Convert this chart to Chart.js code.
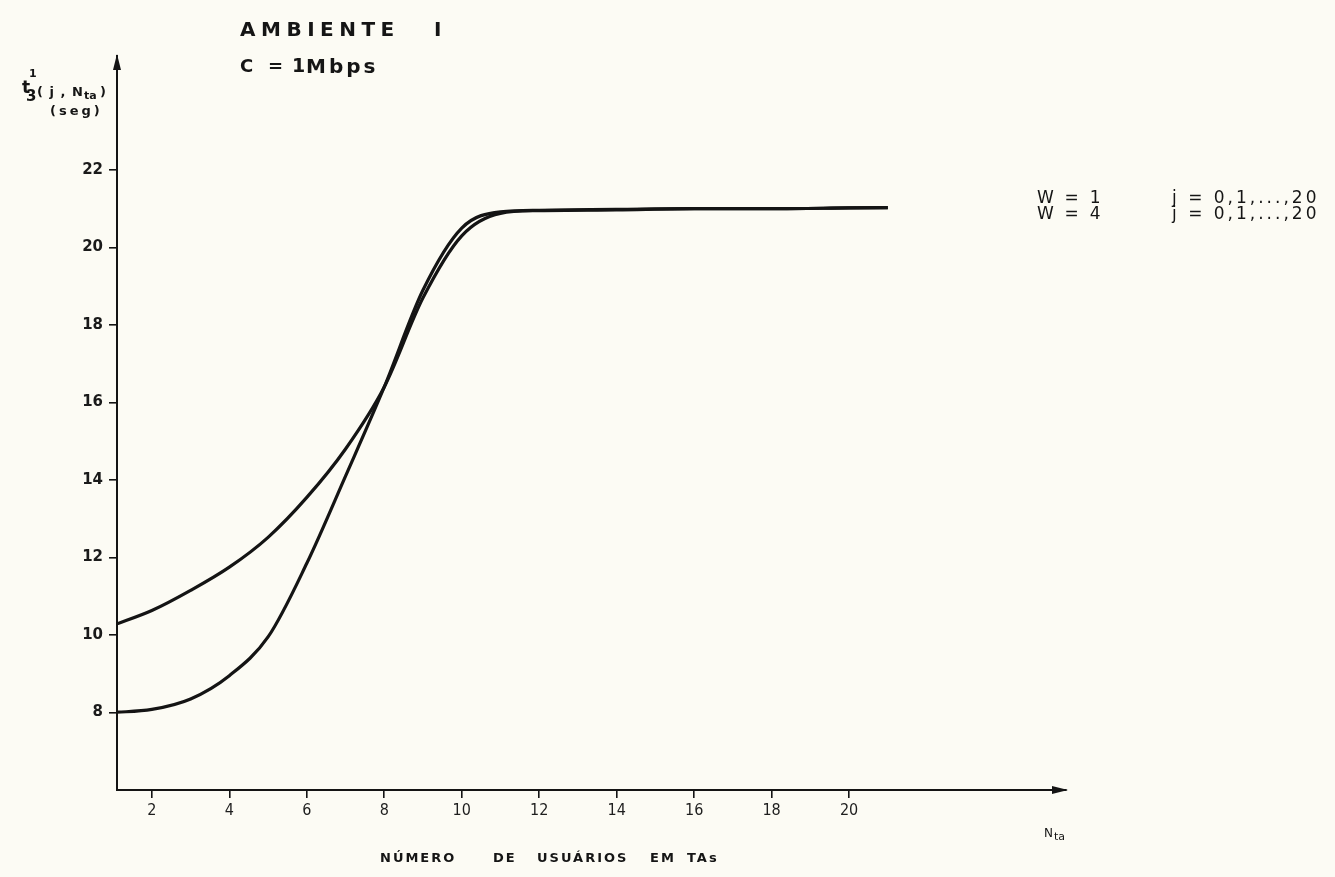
<!DOCTYPE html>
<html>
<head>
<meta charset="utf-8">
<script src="https://cdn.jsdelivr.net/npm/chart.js@4.4.1/dist/chart.umd.min.js"></script>
<style>
    html, body { margin: 0; padding: 0; background: #fcfbf4; }
    #wrap { position: relative; width: 1335px; height: 877px; overflow: hidden; }
    #chart { position: absolute; left: 0; top: 0; }
    .lbl { position: absolute; white-space: pre; color: #151515; font-family: "DejaVu Sans", sans-serif; line-height: 1; }
</style>
</head>
<body>
<div id="wrap"><canvas id="chart" width="1335" height="877"></canvas></div>
<script>
"use strict";

// N_ta values (x) and t3(j, N_ta) in seconds for each window size
const nta = [1, 2, 3, 4, 5, 6, 7, 8, 9, 10, 11, 12, 14, 16, 18, 20, 21];
const tW1 = [10.25, 10.63, 11.15, 11.75, 12.52, 13.55, 14.8, 16.4, 18.7, 20.3, 20.88, 20.95, 20.97, 21.0, 21.0, 21.02, 21.03];
const tW4 = [8.0, 8.08, 8.35, 8.95, 9.95, 11.85, 14.1, 16.4, 18.9, 20.5, 20.92, 20.96, 20.98, 21.0, 21.0, 21.02, 21.03];

const xTicks = [2, 4, 6, 8, 10, 12, 14, 16, 18, 20];
const yTicks = [8, 10, 12, 14, 16, 18, 20, 22];

const ink = "#141414";

function createLabel(text, left, top, style = {}) {
    const el = document.createElement("div");
    el.className = "lbl";
    el.style.left = left + "px";
    el.style.top = top + "px";
    Object.assign(el.style, style);
    el.appendChild(document.createTextNode(text));
    document.getElementById("wrap").appendChild(el);
    return el;
}

// arrowheads at the ends of both axes
const axisArrows = {
    id: "axisArrows",
    afterDraw(chart) {
        const { ctx, chartArea: a } = chart;
        ctx.save();
        ctx.fillStyle = ink;
        ctx.beginPath();
        ctx.moveTo(a.left, a.top - 2);
        ctx.lineTo(a.left - 4, a.top + 14);
        ctx.lineTo(a.left + 4, a.top + 14);
        ctx.closePath();
        ctx.fill();
        ctx.beginPath();
        ctx.moveTo(a.right + 2, a.bottom);
        ctx.lineTo(a.right - 14, a.bottom - 4);
        ctx.lineTo(a.right - 14, a.bottom + 4);
        ctx.closePath();
        ctx.fill();
        ctx.restore();
    }
};

function series(values, label) {
    return {
        label,
        data: nta.map((n, i) => ({ x: n, y: values[i] })),
        borderColor: ink,
        borderWidth: 3.2,
        pointRadius: 0,
        fill: false,
        cubicInterpolationMode: "monotone"
    };
}

const ctx = document.getElementById("chart").getContext("2d");
new Chart(ctx, {
    type: "line",
    data: { datasets: [series(tW1, "W = 1"), series(tW4, "W = 4")] },
    plugins: [axisArrows],
    options: {
        responsive: false,
        animation: false,
        devicePixelRatio: 1,
        layout: { padding: { top: 56, right: 269, left: 0, bottom: 0 } },
        plugins: { legend: { display: false }, tooltip: { enabled: false } },
        scales: {
            x: {
                type: "linear",
                min: 1.1,
                max: 25.6,
                afterBuildTicks: (s) => { s.ticks = xTicks.map((v) => ({ value: v })); },
                afterFit: (s) => { s.height = 87; },
                grid: { drawOnChartArea: false, tickLength: 8, color: ink, lineWidth: 1.6 },
                border: { color: ink, width: 2 },
                ticks: {
                    padding: 3,
                    color: "#1e1e1e",
                    maxRotation: 0,
                    font: { family: "'DejaVu Sans Condensed', 'Liberation Sans Narrow', sans-serif", size: 16 }
                }
            },
            y: {
                min: 6,
                max: 24.94,
                afterBuildTicks: (s) => { s.ticks = yTicks.map((v) => ({ value: v })); },
                afterFit: (s) => { s.width = 117; },
                grid: { drawOnChartArea: false, tickLength: 8, color: ink, lineWidth: 1.6 },
                border: { color: ink, width: 2 },
                ticks: {
                    padding: 6,
                    color: "#1a1a1a",
                    font: { family: "'DejaVu Sans', sans-serif", size: 15, weight: "bold" }
                }
            }
        }
    }
});

// heading
createLabel("AMBIENTE", 240, 19, { fontSize: "20px", fontWeight: "bold", letterSpacing: "5.5px" });
createLabel("I", 434, 19, { fontSize: "20px", fontWeight: "bold" });
createLabel("C", 240, 57, { fontSize: "18px", fontWeight: "bold" });
createLabel("=", 268, 57, { fontSize: "18px", fontWeight: "bold" });
createLabel("1", 292, 56, { fontSize: "19px", fontWeight: "bold" });
createLabel("Mbps", 306, 56, { fontSize: "20px", fontWeight: "bold", letterSpacing: "3px" });

// y axis title
createLabel("t", 22, 79, { fontSize: "17px", fontWeight: "bold" });
createLabel("1", 29, 68, { fontSize: "11px", fontWeight: "bold" });
createLabel("3", 26, 89, { fontSize: "15px", fontWeight: "bold" });
createLabel("( j , N", 37, 85, { fontSize: "13px", fontWeight: "bold", letterSpacing: "1px" });
createLabel("ta", 84, 90, { fontSize: "11px", fontWeight: "bold" });
createLabel(")", 100, 85, { fontSize: "13px", fontWeight: "bold" });
createLabel("(seg)", 50, 104, { fontSize: "13px", fontWeight: "bold", letterSpacing: "3px" });

// legend text
createLabel("W  =  1", 1037, 189, { fontSize: "17px" });
createLabel("j = 0,1,...,20", 1172, 189, { fontSize: "17px", letterSpacing: "3px" });
createLabel("W  =  4", 1037, 205, { fontSize: "17px" });
createLabel("j = 0,1,...,20", 1172, 205, { fontSize: "17px", letterSpacing: "3px" });

// x axis titles
createLabel("N", 1044, 827, { fontSize: "12px" });
createLabel("ta", 1054, 831, { fontSize: "11px" });
const words = [["NÚMERO", 380], ["DE", 493], ["USUÁRIOS", 537], ["EM", 650], ["TAs", 687]];
for (const [w, left] of words) {
    createLabel(w, left, 851, { fontSize: "13px", fontWeight: "bold", letterSpacing: "2px" });
}
</script>
</body>
</html>
